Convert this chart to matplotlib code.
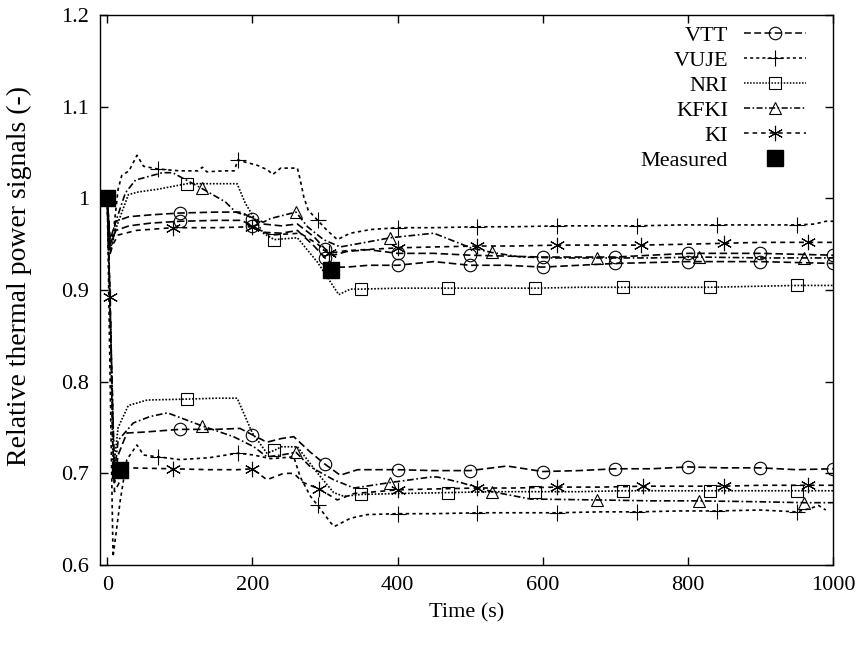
import numpy as np
import matplotlib
matplotlib.use('Agg')
import matplotlib.pyplot as plt
from matplotlib.ticker import FormatStrFormatter
from matplotlib.lines import Line2D

plt.rcParams['font.family'] = ['Liberation Serif', 'DejaVu Serif']
plt.rcParams['font.size'] = 16

# ========== data ==========
# VTT: two upper loops + one lower loop
vtt_a_t = [0, 4, 8, 12, 30, 60, 100, 150, 185, 200, 215, 240, 262, 285, 300, 312, 330, 360, 400, 450,
           500, 550, 600, 650, 700, 750, 800, 850, 900, 950, 1000]
vtt_a_v = [1.0, 0.955, 0.965, 0.975, 0.98, 0.982, 0.984, 0.985, 0.985, 0.978, 0.972, 0.97, 0.972, 0.958,
           0.945, 0.938, 0.942, 0.944, 0.94, 0.94, 0.938, 0.937, 0.936, 0.936, 0.936, 0.938, 0.94, 0.94,
           0.94, 0.939, 0.938]
vtt_b_t = [0, 4, 8, 12, 30, 60, 100, 150, 185, 200, 215, 240, 262, 285, 300, 315, 330, 360, 400, 450,
           500, 550, 600, 650, 700, 750, 800, 850, 900, 950, 1000]
vtt_b_v = [1.0, 0.95, 0.958, 0.965, 0.97, 0.973, 0.975, 0.976, 0.976, 0.97, 0.963, 0.962, 0.965, 0.948,
           0.935, 0.925, 0.925, 0.927, 0.927, 0.931, 0.927, 0.927, 0.925, 0.927, 0.929, 0.93, 0.931, 0.931,
           0.931, 0.93, 0.929]
vtt_c_t = [0, 5, 10, 15, 27, 50, 100, 150, 183, 200, 220, 240, 257, 280, 300, 321, 345, 400, 450, 500,
           551, 600, 650, 700, 750, 800, 850, 900, 950, 1000]
vtt_c_v = [1.0, 0.85, 0.69, 0.72, 0.744, 0.745, 0.748, 0.748, 0.749, 0.742, 0.734, 0.738, 0.74, 0.723,
           0.71, 0.698, 0.704, 0.704, 0.703, 0.703, 0.708, 0.702, 0.703, 0.705, 0.705, 0.707, 0.706, 0.706,
           0.704, 0.705]
vtt_mk = [100, 200, 300, 400, 500, 600, 700, 800, 900, 1000]

# VUJE
vuje_a_t = [0, 3, 8, 15, 20, 30, 41, 50, 70, 100, 125, 131, 137, 160, 175, 180, 188, 207, 221, 228, 239,
            262, 266, 271, 277, 290, 303, 317, 335, 363, 400, 450, 510, 560, 620, 680, 730, 790, 840, 900,
            950, 975, 990, 1000]
vuje_a_v = [1.0, 0.95, 0.96, 1.01, 1.025, 1.03, 1.047, 1.035, 1.032, 1.03, 1.03, 1.034, 1.029, 1.03, 1.03,
            1.042, 1.04, 1.036, 1.031, 1.026, 1.033, 1.033, 1.02, 1.001, 0.987, 0.976, 0.965, 0.955, 0.962,
            0.966, 0.968, 0.968, 0.969, 0.969, 0.97, 0.97, 0.97, 0.971, 0.971, 0.971, 0.971, 0.972, 0.975,
            0.975]
vuje_b_t = [0, 4, 8, 18, 27, 41, 50, 70, 100, 140, 180, 202, 225, 257, 266, 280, 290, 308, 313, 335, 358,
            400, 450, 510, 560, 620, 680, 730, 790, 840, 900, 950, 970, 980, 990]
vuje_b_v = [1.0, 0.8, 0.609, 0.671, 0.715, 0.731, 0.72, 0.718, 0.715, 0.717, 0.722, 0.72, 0.716, 0.718,
            0.696, 0.675, 0.665, 0.646, 0.642, 0.651, 0.655, 0.656, 0.656, 0.657, 0.657, 0.657, 0.658, 0.658,
            0.659, 0.659, 0.66, 0.658, 0.662, 0.665, 0.66]
vuje_mk = [70, 180, 290, 400, 510, 620, 730, 840, 950]

# NRI
nri_a_t = [0, 4, 8, 11, 29, 43, 70, 110, 140, 179, 190, 215, 230, 262, 290, 319, 335, 350, 400, 470, 530,
           590, 650, 710, 770, 830, 890, 950, 1000]
nri_a_v = [1.0, 0.945, 0.955, 0.965, 1.004, 1.007, 1.01, 1.016, 1.016, 1.016, 0.995, 0.962, 0.955, 0.957,
           0.93, 0.895, 0.901, 0.901, 0.902, 0.902, 0.902, 0.902, 0.903, 0.903, 0.903, 0.903, 0.904, 0.905,
           0.905]
nri_b_t = [0, 5, 8, 15, 29, 55, 110, 150, 179, 200, 220, 230, 240, 262, 290, 312, 326, 350, 400, 470, 530,
           590, 650, 710, 770, 830, 890, 950, 1000]
nri_b_v = [1.0, 0.85, 0.70, 0.75, 0.774, 0.78, 0.781, 0.782, 0.782, 0.744, 0.722, 0.725, 0.729, 0.729,
           0.70, 0.679, 0.675, 0.677, 0.678, 0.679, 0.68, 0.68, 0.68, 0.681, 0.681, 0.681, 0.681, 0.681,
           0.681]
nri_mk = [110, 230, 350, 470, 590, 710, 830, 950]

# KFKI
kfki_a_t = [0, 4, 8, 11, 25, 39, 76, 90, 130, 163, 177, 197, 215, 225, 260, 276, 298, 321, 349, 390, 450,
            501, 530, 570, 620, 675, 750, 815, 900, 960, 1000]
kfki_a_v = [1.0, 0.94, 0.955, 0.973, 1.006, 1.02, 1.028, 1.028, 1.011, 0.996, 0.985, 0.98, 0.974, 0.978,
            0.985, 0.969, 0.955, 0.947, 0.951, 0.957, 0.962, 0.946, 0.941, 0.936, 0.935, 0.935, 0.935, 0.936,
            0.935, 0.935, 0.935]
kfki_b_t = [0, 5, 10, 15, 36, 59, 83, 130, 174, 202, 220, 240, 260, 280, 312, 340, 390, 446, 455, 487, 530,
            583, 675, 750, 815, 900, 960, 1000]
kfki_b_v = [1.0, 0.85, 0.70, 0.736, 0.755, 0.762, 0.766, 0.752, 0.74, 0.729, 0.718, 0.72, 0.723, 0.707,
            0.693, 0.684, 0.69, 0.696, 0.696, 0.69, 0.68, 0.672, 0.671, 0.670, 0.670, 0.669, 0.668, 0.668]
kfki_mk = [130, 260, 390, 530, 675, 815, 960]

# KI
ki_a_t = [0, 4, 8, 15, 40, 90, 150, 200, 225, 266, 290, 305, 330, 400, 450, 510, 560, 620, 680, 735, 800,
          850, 900, 965, 1000]
ki_a_v = [1.0, 0.94, 0.95, 0.96, 0.965, 0.968, 0.968, 0.969, 0.96, 0.962, 0.95, 0.94, 0.943, 0.946, 0.947,
          0.948, 0.948, 0.949, 0.949, 0.949, 0.95, 0.951, 0.952, 0.952, 0.952]
ki_a_mk = [90, 200, 305, 400, 510, 620, 735, 850, 965]
ki_b_t = [0, 4, 7, 10, 27, 90, 140, 180, 200, 220, 243, 257, 270, 292, 317, 340, 400, 450, 510, 560, 620,
          680, 738, 800, 850, 900, 965, 1000]
ki_b_v = [1.0, 0.892, 0.75, 0.68, 0.706, 0.705, 0.704, 0.704, 0.705, 0.693, 0.70, 0.70, 0.69, 0.683, 0.671,
          0.678, 0.682, 0.683, 0.684, 0.684, 0.685, 0.685, 0.686, 0.686, 0.686, 0.687, 0.687, 0.687]
ki_b_mk = [4, 90, 200, 292, 400, 510, 620, 738, 850, 965]

# measured
meas_t = [0, 17, 308]
meas_v = [1.0, 0.704, 0.922]

x_ticks = [0, 200, 400, 600, 800, 1000]
y_ticks = [0.6, 0.7, 0.8, 0.9, 1.0, 1.1, 1.2]
# ================================================

styles = {
    'VTT': dict(ls=(0, (4.5, 2.2)), marker='o', ms=9),
    'VUJE': dict(ls=(0, (2.0, 2.0)), marker='+', ms=11),
    'NRI': dict(ls=(0, (1.0, 1.0)), marker='s', ms=8),
    'KFKI': dict(ls=(0, (4.0, 1.6, 1.0, 1.6)), marker='^', ms=8),
    'KI': dict(ls=(0, (3.0, 2.6)), marker=(6, 2, 0), ms=11),
}

curves = [
    ('VTT', vtt_a_t, vtt_a_v, vtt_mk),
    ('VTT', vtt_b_t, vtt_b_v, vtt_mk),
    ('VTT', vtt_c_t, vtt_c_v, vtt_mk),
    ('VUJE', vuje_a_t, vuje_a_v, vuje_mk),
    ('VUJE', vuje_b_t, vuje_b_v, vuje_mk),
    ('NRI', nri_a_t, nri_a_v, nri_mk),
    ('NRI', nri_b_t, nri_b_v, nri_mk),
    ('KFKI', kfki_a_t, kfki_a_v, kfki_mk),
    ('KFKI', kfki_b_t, kfki_b_v, kfki_mk),
    ('KI', ki_a_t, ki_a_v, ki_a_mk),
    ('KI', ki_b_t, ki_b_v, ki_b_mk),
]

fig = plt.figure(figsize=(8.59, 6.45), dpi=100)
ax = fig.add_axes([0.1164, 0.124, 0.8533, 0.8527])

for name, t, v, mk in curves:
    st = styles[name]
    t = np.array(t)
    ax.plot(t, v, color='black', lw=1.2, linestyle=st['ls'], marker=st['marker'], ms=st['ms'],
            markevery=list(np.isin(t, mk)), mfc='none', mec='black', mew=0.8)

ax.plot(meas_t, meas_v, ls='none', marker='s', ms=11, color='black')

handles = []
for name in ['VTT', 'VUJE', 'NRI', 'KFKI', 'KI']:
    st = styles[name]
    handles.append(Line2D([], [], color='black', lw=1.1, linestyle=st['ls'], marker=st['marker'],
                          ms=st['ms'], mfc='none', mec='black', mew=0.8, label=name))
handles.append(Line2D([], [], ls='none', marker='s', ms=11, color='black', label='Measured'))

ax.legend(handles=handles, loc='upper right', frameon=False, markerfirst=False, handlelength=2.8,
          handletextpad=0.7, labelspacing=0.2, borderaxespad=0.0, fontsize=16,
          bbox_to_anchor=(0.975, 0.997))

ax.set_xlim(-10, 1000)
ax.set_ylim(0.6, 1.2)
ax.set_xticks(x_ticks)
ax.set_yticks(y_ticks)
ax.yaxis.set_major_formatter(FormatStrFormatter('%g'))
ax.tick_params(direction='in', length=6, width=1.0, top=True, right=True, labelsize=16, pad=8)
for sp in ax.spines.values():
    sp.set_linewidth(1.0)

ax.set_xlabel('Time (s)', fontsize=16, labelpad=6)
ax.set_ylabel('Relative thermal power signals (-)', fontsize=20)
ax.yaxis.set_label_coords(-0.093, 0.525)

fig.savefig('out.png', dpi=100)
